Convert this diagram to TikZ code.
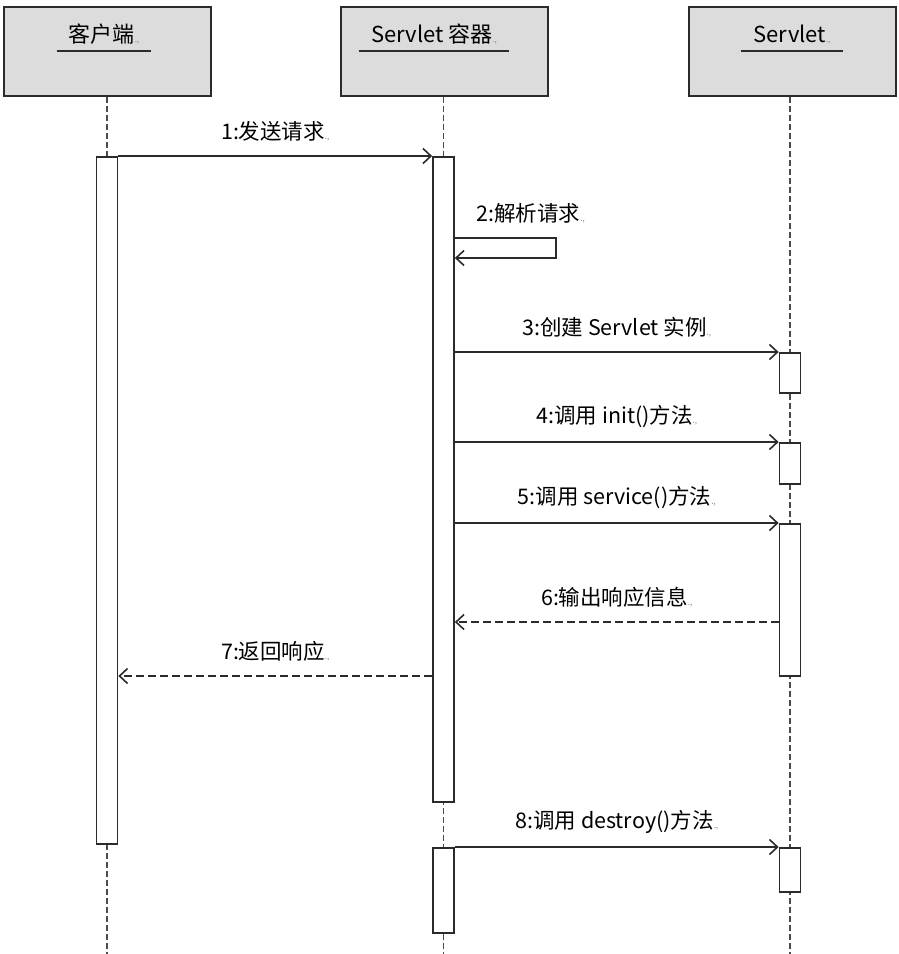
\documentclass[tikz,border=0pt]{standalone}
\usepackage{fontspec}
\setmainfont{Noto Sans CJK SC}
\usetikzlibrary{arrows.meta}
\definecolor{hdr}{HTML}{DCDCDC}
\definecolor{ink}{HTML}{2B2B2B}
\newcommand\parmark{{\fontsize{8}{8}\selectfont\color{gray}.,}}
\begin{document}
\begin{tikzpicture}[x=1pt,y=-1pt,
  hbox/.style={draw=ink, line width=2pt, fill=hdr, minimum width=207pt, minimum height=89pt, anchor=north, inner sep=0pt},
  ttl/.style={font=\fontsize{22}{26}\selectfont, text=black, anchor=base, inner xsep=12pt, inner ysep=0pt},
  uline/.style={draw=ink, line width=1.8pt},
  life/.style={draw=ink!85, line width=1.1pt, dash pattern=on 6pt off 3pt},
  act/.style={draw=ink, line width=1.7pt, fill=white, minimum width=21pt, anchor=north, inner sep=0pt},
  msg/.style={draw=ink, line width=1.7pt, -{Straight Barb[length=8pt,width=15pt,line width=1.6pt]}},
  ret/.style={msg, dash pattern=on 8pt off 4pt},
  lbl/.style={font=\fontsize{21.5}{26}\selectfont, yshift=25pt, inner sep=0pt},
]
\useasboundingbox (0,0) rectangle (898,954);
% headers
\node[hbox] (h1) at (107,6) {};
\node[hbox] (h2) at (444,6) {};
\node[hbox] (h3) at (792,6) {};
\node[ttl] (t1) at (104,42) {客户端\parmark};
\node[ttl] (t2) at (434,42) {Servlet 容器\parmark};
\node[ttl] (t3) at (792,42) {Servlet\parmark};
\draw[uline] (t1.west |- 0,51) -- (t1.east |- 0,51);
\draw[uline] (t2.west |- 0,51) -- (t2.east |- 0,51);
\draw[uline] (t3.west |- 0,51) -- (t3.east |- 0,51);
% lifelines
\coordinate (e1) at (107,954);
\coordinate (e2) at (443.5,954);
\coordinate (e3) at (790,954);
\draw[life] (h1.south) -- (e1);
\draw[life] (h2.south -| e2) -- (e2);
\draw[life] (h3.south -| e3) -- (e3);
% activations
\node[act, minimum height=687pt] (ca) at (107,156) {};
\node[act, minimum height=645pt] (cb1) at (443.5,156) {};
\node[act, minimum height=85pt] (cb2) at (443.5,847) {};
\node[act, minimum height=40pt] (s3) at (790,352) {};
\node[act, minimum height=41pt] (s4) at (790,442) {};
\node[act, minimum height=152pt] (s5) at (790,523) {};
\node[act, minimum height=44pt] (s8) at (790,847) {};
% messages
\draw[msg] (ca.north east) -- node[lbl]{1:发送请求\parmark} (cb1.north west);
\coordinate (l2a) at (556,238);
\coordinate (l2b) at (556,258);
\draw[msg] (cb1.east |- l2a) -- node[lbl,pos=0.75]{2:解析请求\parmark} (l2a) -- (l2b) -- (cb1.east |- l2b);
\draw[msg] (cb1.east |- s3.north) -- node[lbl]{3:创建 Servlet 实例\parmark} (s3.north west);
\draw[msg] (cb1.east |- s4.north) -- node[lbl]{4:调用 init()方法\parmark} (s4.north west);
\draw[msg] (cb1.east |- s5.north) -- node[lbl]{5:调用 service()方法\parmark} (s5.north west);
\coordinate (m6) at (790,622);
\draw[ret] (s5.west |- m6) -- node[lbl]{6:输出响应信息\parmark} (cb1.east |- m6);
\coordinate (m7) at (443,676);
\draw[ret] (cb1.west |- m7) -- node[lbl]{7:返回响应\parmark} (ca.east |- m7);
\draw[msg] (cb2.north east) -- node[lbl]{8:调用 destroy()方法\parmark} (s8.north west);
\end{tikzpicture}
\end{document}
